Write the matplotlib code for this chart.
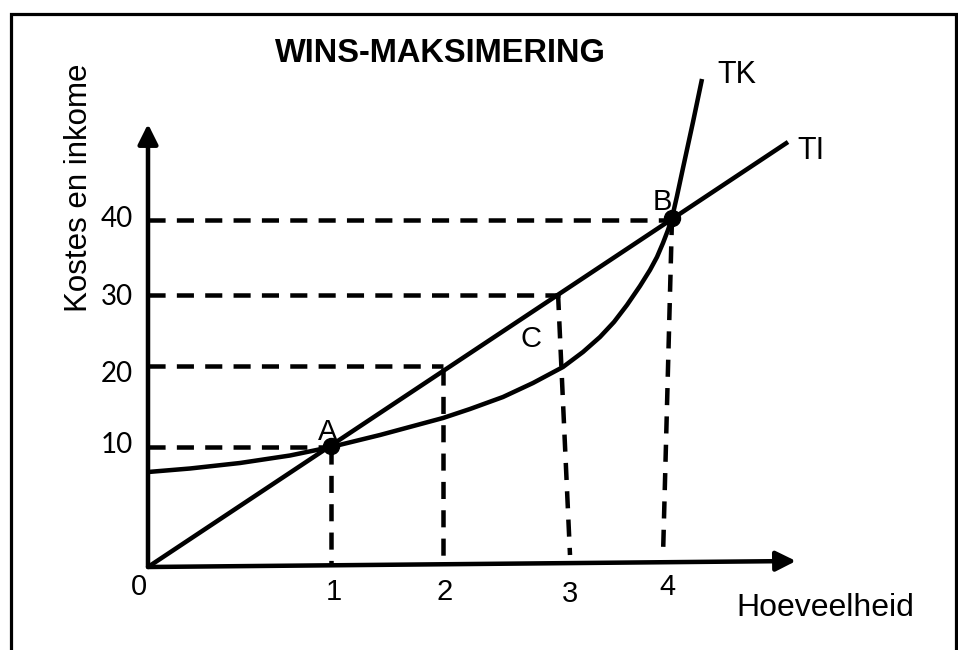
"""
Wins-maksimering diagram: totale koste (TK) en totale inkomste (TI)
teen hoeveelheid, with the A/B break-even points and C (max profit gap).
"""

import matplotlib

matplotlib.use("Agg")
import matplotlib.pyplot as plt

plt.rcParams.update(
    {
        "font.family": ["Liberation Sans", "DejaVu Sans"],
        "savefig.dpi": 100,
    }
)

# Diagram values in its own drawing units
# (x to the right, y downwards, origin of the sketch at ORIGIN)
ORIGIN = (148, 567)
X_AXIS_TIP = (796, 561)
Y_AXIS_TIP = (148, 124)

# total income: straight line through the origin
TI_X = [148, 788]
TI_Y = [567, 142]

# total cost: rises slowly, then steeply
TK_X = [148, 190, 240, 290, 331, 380, 443, 470, 503, 533, 563, 583, 600,
        614, 627, 640, 650, 657, 663, 668, 672, 677, 683, 693, 702]
TK_Y = [472, 468.5, 463, 455.5, 447, 435, 418, 409, 397, 383, 367, 352, 337,
        322, 305, 286, 270, 257, 243, 230, 218, 196, 168, 122, 79]

# value levels with their dashed guide lines (axis -> curve)
LEVEL_LABELS = ["10", "20", "30", "40"]
LEVEL_Y = [447, 366, 295, 220]
LEVEL_X_END = [331, 443, 560, 672]

# quantity drop lines (top point on a curve -> x axis)
QTY_LABELS = ["0", "1", "2", "3", "4"]
DROP_TOP_X = [331, 443, 558, 672]
DROP_TOP_Y = [447, 368, 293, 218]
DROP_BOT_X = [331, 443, 570, 663]
DROP_BOT_Y = [565, 563, 555, 556]

# intersection points of TI and TK
POINT_NAMES = ["A", "B"]
POINT_X = [331, 672]
POINT_Y = [446, 218]

PX = 0.72  # one reference pixel in points


def main():
    fig = plt.figure(figsize=(9.58, 6.5), dpi=100)
    ax = fig.add_axes([0, 0, 1, 1])
    ax.set_xlim(0, 958)
    ax.set_ylim(650, 0)
    ax.axis("off")

    # frame round the sketch (open at the bottom)
    ax.plot([11, 11, 956, 956], [652, 14, 14, 652], color="black",
            lw=3.2 * PX, solid_joinstyle="miter", solid_capstyle="butt")

    # axes with arrow heads
    arrow = dict(arrowstyle="-|>,head_length=1.2,head_width=0.6",
                 color="black", lw=4.5 * PX, mutation_scale=10,
                 shrinkA=0, shrinkB=0)
    ax.annotate("", xy=X_AXIS_TIP, xytext=ORIGIN, arrowprops=arrow)
    ax.annotate("", xy=Y_AXIS_TIP, xytext=ORIGIN, arrowprops=arrow)

    dash = dict(color="black", lw=4.5 * PX, dashes=(3.8, 2.5), dash_capstyle="butt")

    # horizontal guides from the y axis
    for y, x_end in zip(LEVEL_Y, LEVEL_X_END):
        ax.plot([ORIGIN[0], x_end], [y, y], **dash)

    # vertical guides down to the x axis
    for x0, y0, x1, y1 in zip(DROP_TOP_X, DROP_TOP_Y, DROP_BOT_X, DROP_BOT_Y):
        ax.plot([x0, x1], [y0, y1], **dash)

    # curves
    ax.plot(TI_X, TI_Y, color="black", lw=4.5 * PX, solid_capstyle="butt")
    ax.plot(TK_X, TK_Y, color="black", lw=4.5 * PX, solid_capstyle="butt",
            solid_joinstyle="round")

    ax.scatter(POINT_X, POINT_Y, s=(16 * PX) ** 2, color="black", zorder=5)

    # texts
    ax.text(440, 62, "WINS-MAKSIMERING", fontsize=23.5, fontweight="bold",
            ha="center", va="baseline")
    ax.text(87, 188, "Kostes en inkome", fontsize=22.5, rotation=90,
            rotation_mode="anchor", ha="center", va="baseline")
    ax.text(825, 616, "Hoeveelheid", fontsize=23, ha="center", va="baseline")
    ax.text(737, 83, "TK", fontsize=22, ha="center", va="baseline")
    ax.text(811, 159, "TI", fontsize=22, ha="center", va="baseline")

    for name, x, y in zip(POINT_NAMES, [328, 662], [440, 210]):
        ax.text(x, y, name, fontsize=21, ha="center", va="baseline")
    ax.text(531, 347, "C", fontsize=21, ha="center", va="baseline")

    for lab, y in zip(LEVEL_LABELS, [453, 382, 305, 227]):
        ax.text(133, y, lab, fontsize=20, family=["Lato", "DejaVu Sans"],
                ha="right", va="baseline")

    for lab, x, y in zip(QTY_LABELS, [139, 334, 445, 570, 667], [595, 600, 600, 602, 595]):
        ax.text(x, y, lab, fontsize=21, ha="center", va="baseline")

    fig.savefig("out.png", dpi=100)
    plt.close(fig)


if __name__ == "__main__":
    main()
